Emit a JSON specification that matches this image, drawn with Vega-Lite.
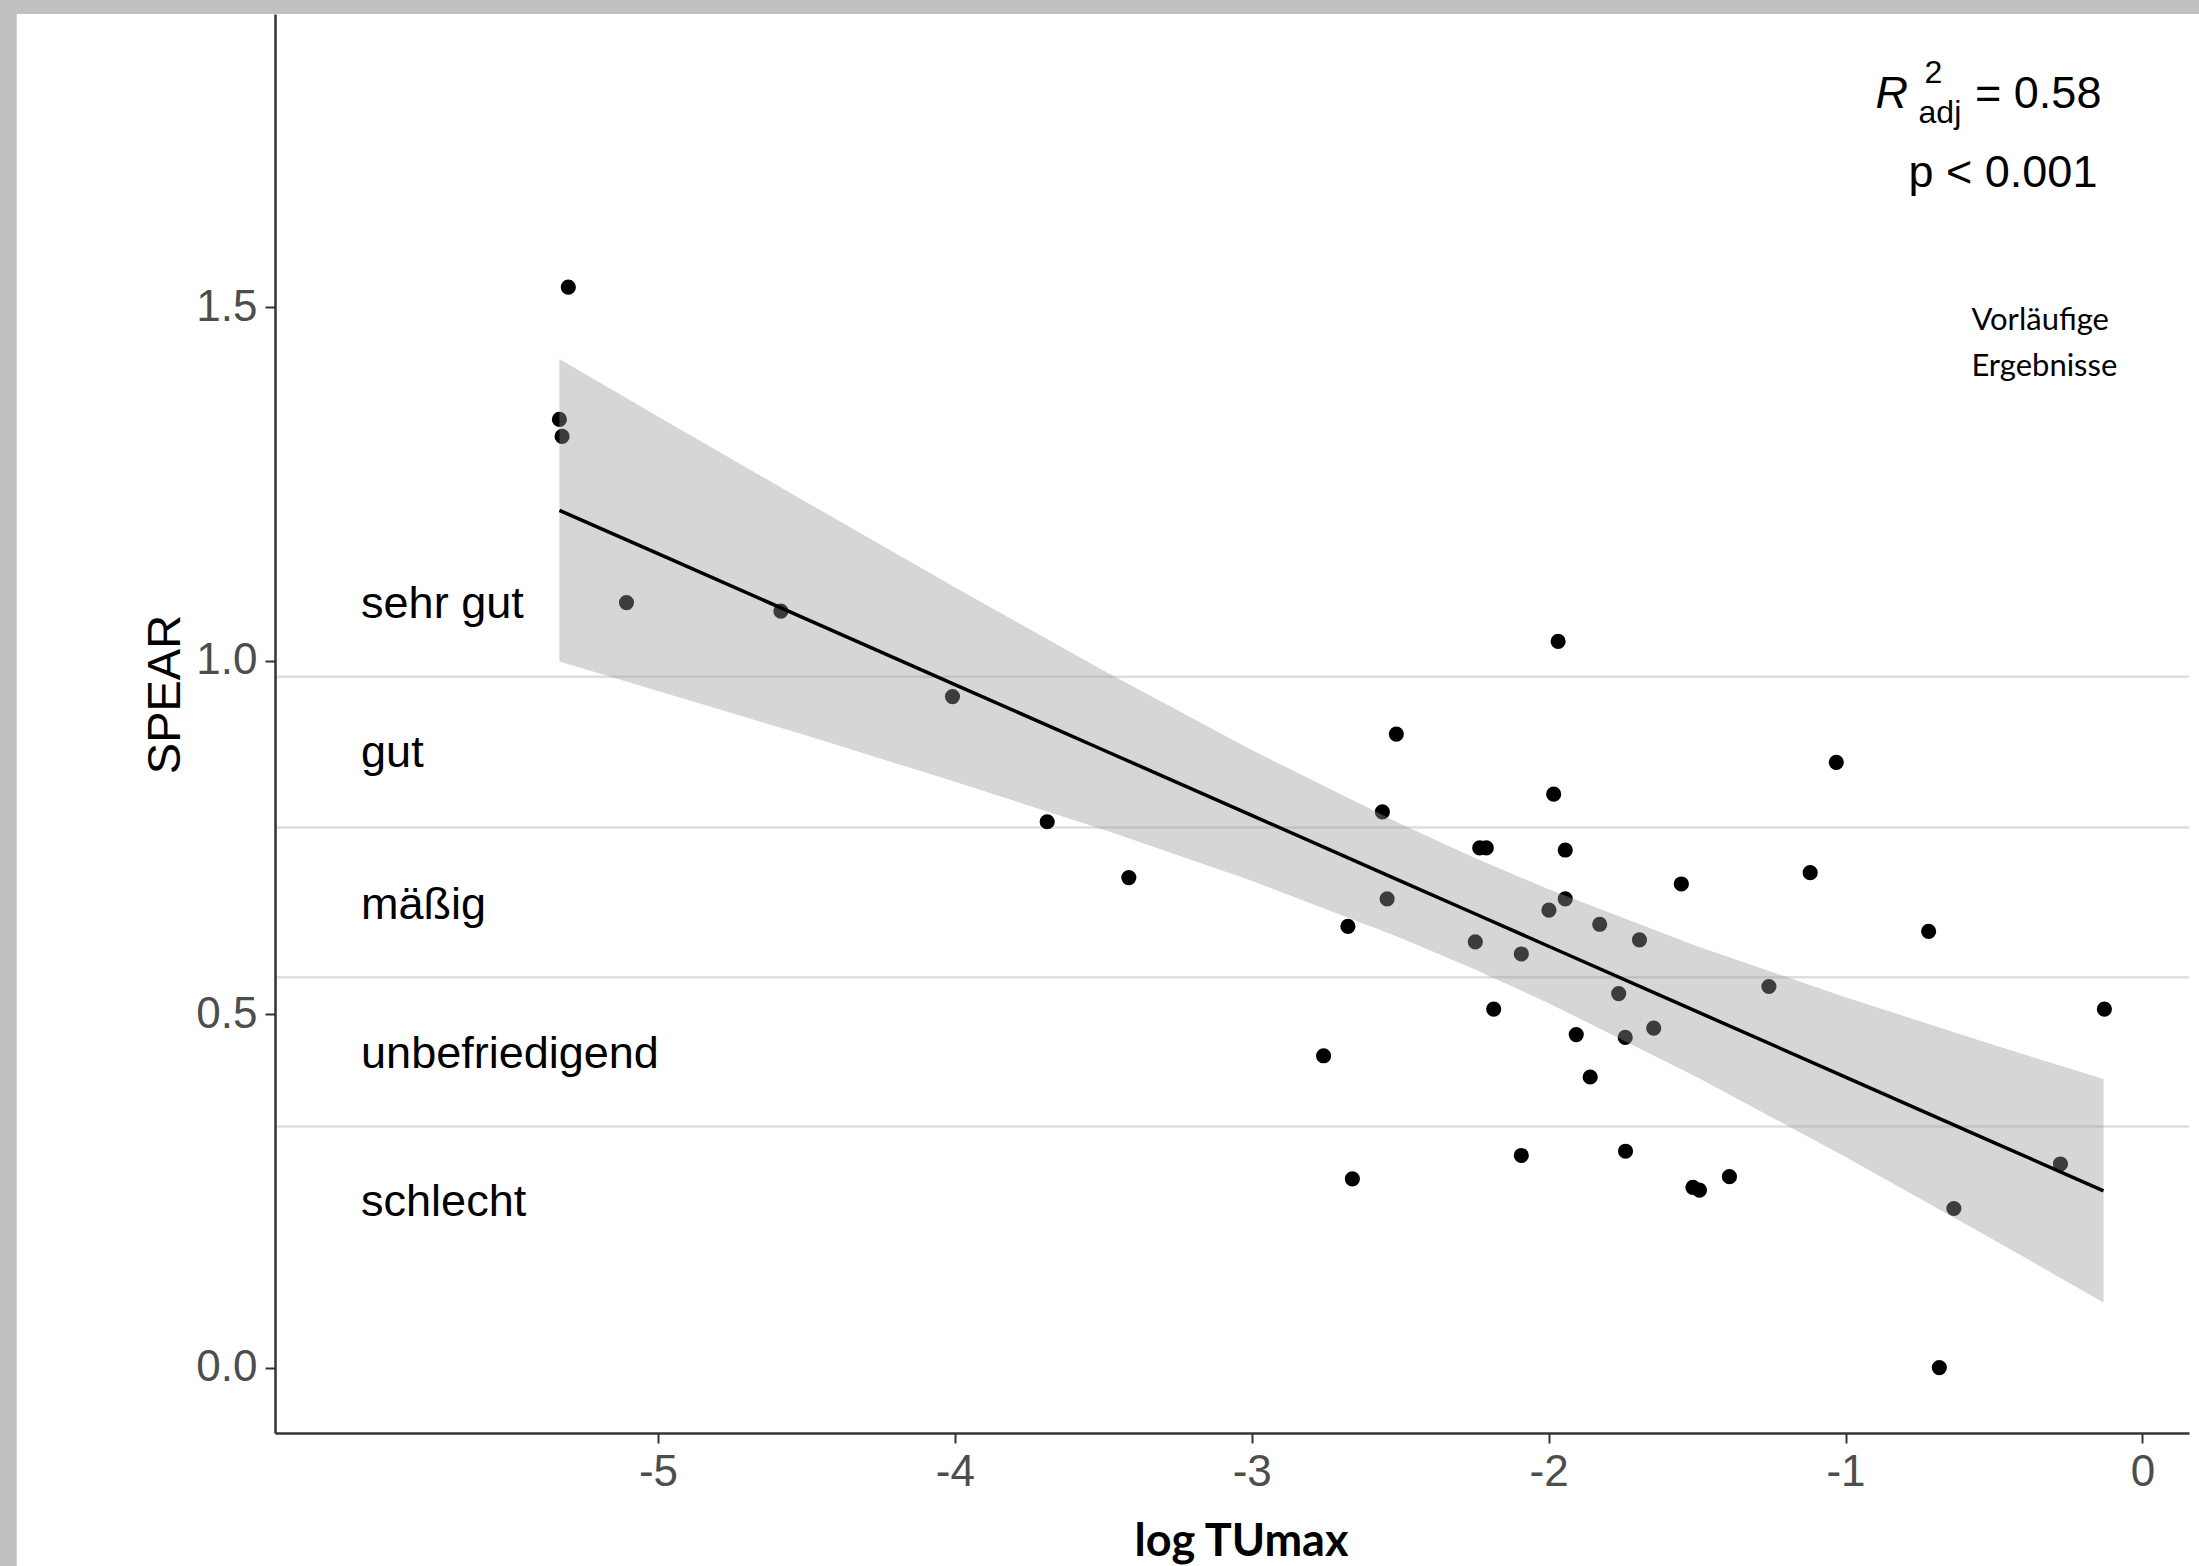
{
  "$schema": "https://vega.github.io/schema/vega-lite/v6.json",
  "width": 1914,
  "height": 1419,
  "autosize": {"type": "none"},
  "padding": {"left": 275, "top": 14, "right": 10, "bottom": 133},
  "background": "#c0c0c0",
  "config": {
    "view": {"stroke": null},
    "font": "Liberation Sans",
    "axis": {
      "grid": false,
      "domainColor": "#333333",
      "domainWidth": 2.5,
      "tickColor": "#333333",
      "tickWidth": 2,
      "tickSize": 10,
      "labelFont": "Liberation Sans",
      "labelFontSize": 44,
      "labelColor": "#4d4d4d"
    }
  },
  "datasets": {
    "points": [
      {"logTUmax": -5.302, "SPEAR": 1.528},
      {"logTUmax": -5.332, "SPEAR": 1.341},
      {"logTUmax": -5.323, "SPEAR": 1.317},
      {"logTUmax": -5.106, "SPEAR": 1.082},
      {"logTUmax": -4.586, "SPEAR": 1.070},
      {"logTUmax": -4.008, "SPEAR": 0.949},
      {"logTUmax": -3.689, "SPEAR": 0.772},
      {"logTUmax": -3.414, "SPEAR": 0.693},
      {"logTUmax": -2.758, "SPEAR": 0.441},
      {"logTUmax": -2.676, "SPEAR": 0.624},
      {"logTUmax": -2.661, "SPEAR": 0.267},
      {"logTUmax": -2.560, "SPEAR": 0.786},
      {"logTUmax": -2.544, "SPEAR": 0.663},
      {"logTUmax": -2.513, "SPEAR": 0.896},
      {"logTUmax": -2.247, "SPEAR": 0.602},
      {"logTUmax": -2.232, "SPEAR": 0.735},
      {"logTUmax": -2.210, "SPEAR": 0.735},
      {"logTUmax": -2.185, "SPEAR": 0.507},
      {"logTUmax": -2.092, "SPEAR": 0.300},
      {"logTUmax": -2.092, "SPEAR": 0.585},
      {"logTUmax": -1.999, "SPEAR": 0.647},
      {"logTUmax": -1.983, "SPEAR": 0.811},
      {"logTUmax": -1.968, "SPEAR": 1.027},
      {"logTUmax": -1.944, "SPEAR": 0.732},
      {"logTUmax": -1.944, "SPEAR": 0.663},
      {"logTUmax": -1.907, "SPEAR": 0.471},
      {"logTUmax": -1.860, "SPEAR": 0.411},
      {"logTUmax": -1.828, "SPEAR": 0.627},
      {"logTUmax": -1.764, "SPEAR": 0.529},
      {"logTUmax": -1.742, "SPEAR": 0.467},
      {"logTUmax": -1.741, "SPEAR": 0.306},
      {"logTUmax": -1.694, "SPEAR": 0.605},
      {"logTUmax": -1.646, "SPEAR": 0.480},
      {"logTUmax": -1.553, "SPEAR": 0.684},
      {"logTUmax": -1.514, "SPEAR": 0.255},
      {"logTUmax": -1.492, "SPEAR": 0.251},
      {"logTUmax": -1.391, "SPEAR": 0.270},
      {"logTUmax": -1.258, "SPEAR": 0.539},
      {"logTUmax": -1.119, "SPEAR": 0.700},
      {"logTUmax": -1.031, "SPEAR": 0.856},
      {"logTUmax": -0.720, "SPEAR": 0.617},
      {"logTUmax": -0.684, "SPEAR": 0.000},
      {"logTUmax": -0.635, "SPEAR": 0.225},
      {"logTUmax": -0.276, "SPEAR": 0.288},
      {"logTUmax": -0.128, "SPEAR": 0.507}
    ],
    "fit": [
      {"logTUmax": -5.332, "fit": 1.2125, "lower": 0.9985, "upper": 1.4265},
      {"logTUmax": -5.0, "fit": 1.1511, "lower": 0.957, "upper": 1.345},
      {"logTUmax": -4.5, "fit": 1.0586, "lower": 0.894, "upper": 1.224},
      {"logTUmax": -4.0, "fit": 0.966, "lower": 0.8285, "upper": 1.1035},
      {"logTUmax": -3.5, "fit": 0.8735, "lower": 0.761, "upper": 0.986},
      {"logTUmax": -3.0, "fit": 0.781, "lower": 0.6886, "upper": 0.8734},
      {"logTUmax": -2.5, "fit": 0.6885, "lower": 0.608, "upper": 0.769},
      {"logTUmax": -2.25, "fit": 0.6422, "lower": 0.5633, "upper": 0.7211},
      {"logTUmax": -2.0, "fit": 0.5959, "lower": 0.5154, "upper": 0.6764},
      {"logTUmax": -1.5, "fit": 0.5034, "lower": 0.4108, "upper": 0.596},
      {"logTUmax": -1.0, "fit": 0.4109, "lower": 0.298, "upper": 0.5238},
      {"logTUmax": -0.5, "fit": 0.3183, "lower": 0.1805, "upper": 0.4561},
      {"logTUmax": -0.131, "fit": 0.25, "lower": 0.092, "upper": 0.408}
    ],
    "bounds": [
      {"boundary": 0.977},
      {"boundary": 0.764},
      {"boundary": 0.552},
      {"boundary": 0.341}
    ],
    "classes": [
      {"label": "sehr gut", "x": -6.0, "y": 1.060},
      {"label": "gut", "x": -6.0, "y": 0.849},
      {"label": "mäßig", "x": -6.0, "y": 0.634},
      {"label": "unbefriedigend", "x": -6.0, "y": 0.424},
      {"label": "schlecht", "x": -6.0, "y": 0.215}
    ]
  },
  "layer": [
    {
      "data": {"values": [{}]},
      "mark": {"type": "rect", "color": "white", "clip": false},
      "encoding": {
        "x": {
          "datum": -7.16,
          "type": "quantitative",
          "scale": {"domain": [-6.29, 0.157], "nice": false, "zero": false},
          "axis": {
            "zindex": 1,
            "values": [-5, -4, -3, -2, -1, 0],
            "labelExpr": "toString(datum.value)",
            "labelPadding": 7,
            "title": "log TUmax",
            "titleFont": "Lato",
            "titleFontWeight": "bold",
            "titleFontSize": 45,
            "titleColor": "black",
            "titleX": 966,
            "titleY": 122,
            "titleBaseline": "alphabetic",
            "titleAlign": "center"
          }
        },
        "x2": {"datum": 0.6},
        "y": {
          "datum": 1.9144,
          "type": "quantitative",
          "scale": {"domain": [-0.0925, 1.9144], "nice": false, "zero": false},
          "axis": {
            "zindex": 1,
            "values": [0, 0.5, 1, 1.5],
            "format": ".1f",
            "labelPadding": 8,
            "title": "SPEAR",
            "titleFont": "Liberation Sans",
            "titleFontWeight": "normal",
            "titleFontSize": 47,
            "titleColor": "black",
            "titleAngle": 270,
            "titleX": -110,
            "titleY": 680,
            "titleBaseline": "middle",
            "titleAlign": "center"
          }
        },
        "y2": {"datum": -0.6}
      }
    },
    {
      "data": {"name": "bounds"},
      "mark": {"type": "rule", "color": "#dedede", "strokeWidth": 2.5},
      "encoding": {
        "y": {"field": "boundary", "type": "quantitative", "scale": {"domain": [-0.0925, 1.9144], "nice": false, "zero": false}}
      }
    },
    {
      "data": {"name": "points"},
      "mark": {"type": "circle", "color": "black", "opacity": 1, "size": 230},
      "encoding": {
        "x": {"field": "logTUmax", "type": "quantitative", "scale": {"domain": [-6.29, 0.157], "nice": false, "zero": false}},
        "y": {"field": "SPEAR", "type": "quantitative", "scale": {"domain": [-0.0925, 1.9144], "nice": false, "zero": false}}
      }
    },
    {
      "data": {"name": "fit"},
      "mark": {"type": "area", "color": "#999999", "opacity": 0.4},
      "encoding": {
        "x": {"field": "logTUmax", "type": "quantitative", "scale": {"domain": [-6.29, 0.157], "nice": false, "zero": false}},
        "y": {"field": "lower", "type": "quantitative", "scale": {"domain": [-0.0925, 1.9144], "nice": false, "zero": false}},
        "y2": {"field": "upper"}
      }
    },
    {
      "data": {"name": "fit"},
      "mark": {"type": "line", "color": "black", "strokeWidth": 3.5},
      "encoding": {
        "x": {"field": "logTUmax", "type": "quantitative", "scale": {"domain": [-6.29, 0.157], "nice": false, "zero": false}},
        "y": {"field": "fit", "type": "quantitative", "scale": {"domain": [-0.0925, 1.9144], "nice": false, "zero": false}}
      }
    },
    {
      "data": {"name": "classes"},
      "mark": {"type": "text", "font": "Liberation Sans", "fontSize": 45, "align": "left", "baseline": "alphabetic", "color": "black"},
      "encoding": {
        "x": {"field": "x", "type": "quantitative", "scale": {"domain": [-6.29, 0.157], "nice": false, "zero": false}},
        "y": {"field": "y", "type": "quantitative", "scale": {"domain": [-0.0925, 1.9144], "nice": false, "zero": false}},
        "text": {"field": "label"}
      }
    },
    {
      "data": {"values": [{}]},
      "mark": {"type": "text", "text": "R", "font": "Liberation Sans", "fontStyle": "italic", "fontSize": 45, "align": "left", "baseline": "alphabetic", "color": "black"},
      "encoding": {
        "x": {"datum": -0.899, "type": "quantitative", "scale": {"domain": [-6.29, 0.157], "nice": false, "zero": false}},
        "y": {"datum": 1.781, "type": "quantitative", "scale": {"domain": [-0.0925, 1.9144], "nice": false, "zero": false}}
      }
    },
    {
      "data": {"values": [{}]},
      "mark": {"type": "text", "text": "2", "font": "Liberation Sans", "fontSize": 32, "align": "center", "baseline": "alphabetic", "color": "black"},
      "encoding": {
        "x": {"datum": -0.704, "type": "quantitative", "scale": {"domain": [-6.29, 0.157], "nice": false, "zero": false}},
        "y": {"datum": 1.817, "type": "quantitative", "scale": {"domain": [-0.0925, 1.9144], "nice": false, "zero": false}}
      }
    },
    {
      "data": {"values": [{}]},
      "mark": {"type": "text", "text": "adj", "font": "Liberation Sans", "fontSize": 32, "align": "center", "baseline": "alphabetic", "color": "black"},
      "encoding": {
        "x": {"datum": -0.682, "type": "quantitative", "scale": {"domain": [-6.29, 0.157], "nice": false, "zero": false}},
        "y": {"datum": 1.760, "type": "quantitative", "scale": {"domain": [-0.0925, 1.9144], "nice": false, "zero": false}}
      }
    },
    {
      "data": {"values": [{}]},
      "mark": {"type": "text", "text": "= 0.58", "font": "Liberation Sans", "fontSize": 45, "align": "right", "baseline": "alphabetic", "color": "black"},
      "encoding": {
        "x": {"datum": -0.138, "type": "quantitative", "scale": {"domain": [-6.29, 0.157], "nice": false, "zero": false}},
        "y": {"datum": 1.781, "type": "quantitative", "scale": {"domain": [-0.0925, 1.9144], "nice": false, "zero": false}}
      }
    },
    {
      "data": {"values": [{}]},
      "mark": {"type": "text", "text": "p < 0.001", "font": "Liberation Sans", "fontSize": 45, "align": "right", "baseline": "alphabetic", "color": "black"},
      "encoding": {
        "x": {"datum": -0.1515, "type": "quantitative", "scale": {"domain": [-6.29, 0.157], "nice": false, "zero": false}},
        "y": {"datum": 1.670, "type": "quantitative", "scale": {"domain": [-0.0925, 1.9144], "nice": false, "zero": false}}
      }
    },
    {
      "data": {"values": [{}]},
      "mark": {"type": "text", "text": "Vorläufige", "font": "Lato", "fontSize": 31, "align": "left", "baseline": "alphabetic", "color": "black"},
      "encoding": {
        "x": {"datum": -0.576, "type": "quantitative", "scale": {"domain": [-6.29, 0.157], "nice": false, "zero": false}},
        "y": {"datum": 1.467, "type": "quantitative", "scale": {"domain": [-0.0925, 1.9144], "nice": false, "zero": false}}
      }
    },
    {
      "data": {"values": [{}]},
      "mark": {"type": "text", "text": "Ergebnisse", "font": "Lato", "fontSize": 31, "align": "left", "baseline": "alphabetic", "color": "black"},
      "encoding": {
        "x": {"datum": -0.576, "type": "quantitative", "scale": {"domain": [-6.29, 0.157], "nice": false, "zero": false}},
        "y": {"datum": 1.4026, "type": "quantitative", "scale": {"domain": [-0.0925, 1.9144], "nice": false, "zero": false}}
      }
    }
  ]
}
